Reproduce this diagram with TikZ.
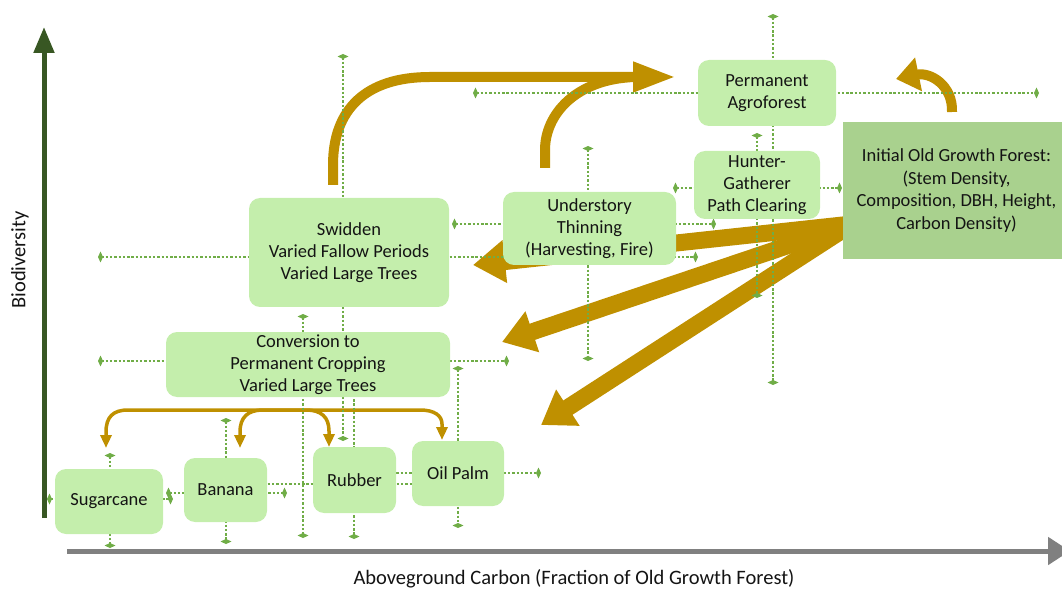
\documentclass[tikz,border=0pt]{standalone}
\usepackage{fontspec}
\setmainfont{Carlito}
\usetikzlibrary{arrows.meta}
\definecolor{boxfill}{HTML}{C4EEAC}
\definecolor{forestfill}{HTML}{A9D18E}
\definecolor{gold}{HTML}{BF9000}
\definecolor{errgreen}{HTML}{70AD47}
\definecolor{ygreen}{HTML}{385723}
\definecolor{xgray}{HTML}{808080}
\definecolor{txt}{HTML}{141414}
\begin{document}
\begin{tikzpicture}[x=1pt,y=-1pt,
  box/.style={fill=boxfill, rounded corners=11pt, align=center, text=txt, font=\fontsize{18.5}{22}\selectfont, inner sep=0pt},
  errbar/.style={draw=errgreen, line width=2.6pt, dash pattern=on 2.4pt off 1.9pt, arrows={Diamond[length=5pt,width=11pt]-Diamond[length=5pt,width=11pt]}},
  bigarrow/.style={draw=gold, line width=17pt, arrows={-Triangle[length=32pt,width=41pt]}},
  curvearrow/.style={draw=gold, line width=10pt},
  thinarrow/.style={draw=gold, line width=3.5pt, arrows={Triangle[length=13pt,width=11pt]-Triangle[length=13pt,width=11pt]}},
  lab/.style={text=txt, font=\fontsize{20.5}{24}\selectfont, inner sep=0pt}
]
\useasboundingbox (0,0) rectangle (1062,593);
\clip (0,0) rectangle (1062,593);

% axes
\coordinate (ybot) at (44,518); \coordinate (ytop) at (44,27);
\draw[ygreen, line width=5pt, arrows={-Triangle[length=26pt,width=20pt]}] (ybot) -- (ytop);
\coordinate (xl) at (67,551); \coordinate (xr) at (1070,551);
\draw[xgray, line width=5pt, arrows={-Triangle[length=22pt,width=27pt]}] (xl) -- (xr);
\node[lab] (xlab) at (574,579) {Aboveground Carbon (Fraction of Old Growth Forest)};
\node[lab, rotate=90] (ylab) at (20,260) {Biodiversity};

% big gold arrows from the forest
\coordinate (fo) at (852,224);
\coordinate (tipS) at (473,265);
\coordinate (tipC) at (502,342);
\coordinate (tipR) at (541,425);
\draw[bigarrow] (fo) -- (tipS);
\draw[bigarrow] (fo) -- (tipC);
\draw[bigarrow] (fo) -- (tipR);

% curved gold arrows to agroforest
\coordinate (swOut) at (333,185); \coordinate (agIn) at (676,77);
\draw[curvearrow, arrows={-Triangle[length=43pt,width=28pt]}] (swOut) -- (333,165) .. controls (333,110) and (365,77) .. (430,77) -- (agIn);
\coordinate (unOut) at (545,168); \coordinate (unJoin) at (650,77);
\draw[curvearrow] (unOut) -- (545,150) .. controls (545,115) and (575,79) .. (635,77) -- (unJoin);
\coordinate (foOut) at (952,112); \coordinate (agIn2) at (896,79);
\draw[curvearrow, arrows={-Triangle[length=23pt,width=33pt]}] (foOut) .. controls (953,85) and (930,72) .. (agIn2);

% thin gold arrows to crops
\coordinate (sgIn) at (106,448); \coordinate (opIn) at (442,440);
\draw[thinarrow] (sgIn) -- (106,432) .. controls (106,417) and (113,410) .. (128,410) -- (420,410) .. controls (435,410) and (442,416) .. (442,424) -- (opIn);
\coordinate (bnIn) at (240,448); \coordinate (rbIn) at (329,447);
\draw[thinarrow] (bnIn) -- (240,432) .. controls (240,417) and (248,410) .. (263,410) -- (306,410) .. controls (321,410) and (329,417) .. (329,431) -- (rbIn);

% error bars
\draw[errbar] (473,93) -- (1039,93);
\draw[errbar] (773,14) -- (773,385);
\draw[errbar] (673,188) -- (842,188);
\draw[errbar] (757,133) -- (757,298);
\draw[errbar] (452,224) -- (716,224);
\draw[errbar] (588,146) -- (588,361);
\draw[errbar] (98,257) -- (698,257);
\draw[errbar] (343,54) -- (343,441);
\draw[errbar] (98,361) -- (509,361);
\draw[errbar] (303,314) -- (303,538);
\draw[errbar] (47,499) -- (173,499);
\draw[errbar] (110,453) -- (110,548);
\draw[errbar] (166,493) -- (287,493);
\draw[errbar] (226,418) -- (226,544);
\draw[errbar] (230,484) -- (440,484);
\draw[errbar] (354,370) -- (354,539);
\draw[errbar] (380,473) -- (541,473);
\draw[errbar] (458,366) -- (458,528);

% boxes
\node[box, minimum width=138pt, minimum height=66pt] (agro) at (767,93) {Permanent\\Agroforest};
\node[box, minimum width=126pt, minimum height=68pt] (hunt) at (757,185) {Hunter-\\Gatherer\\Path Clearing};
\node[box, minimum width=173pt, minimum height=73pt] (under) at (589.5,228.5) {Understory\\Thinning\\(Harvesting, Fire)};
\node[box, minimum width=200pt, minimum height=109pt] (swid) at (349,252.5) {Swidden\\Varied Fallow Periods\\Varied Large Trees};
\node[box, minimum width=284pt, minimum height=65pt] (conv) at (308,364.5) {Conversion to\\Permanent Cropping\\Varied Large Trees};
\node[box, minimum width=108pt, minimum height=65pt] (sugar) at (109,501.5) {Sugarcane};
\node[box, minimum width=83pt, minimum height=64pt] (banana) at (225.5,490) {Banana};
\node[box, minimum width=83pt, minimum height=66pt] (rubber) at (354.5,480) {Rubber};
\node[box, minimum width=92pt, minimum height=65pt] (oil) at (458,473.5) {Oil Palm};
\node[box, fill=forestfill, rounded corners=0pt, minimum width=227pt, minimum height=137pt, font=\fontsize{18.5}{22.5}\selectfont] (forest) at (956.5,190.5) {Initial Old Growth Forest:\\(Stem Density,\\Composition, DBH, Height,\\Carbon Density)};
\end{tikzpicture}
\end{document}
